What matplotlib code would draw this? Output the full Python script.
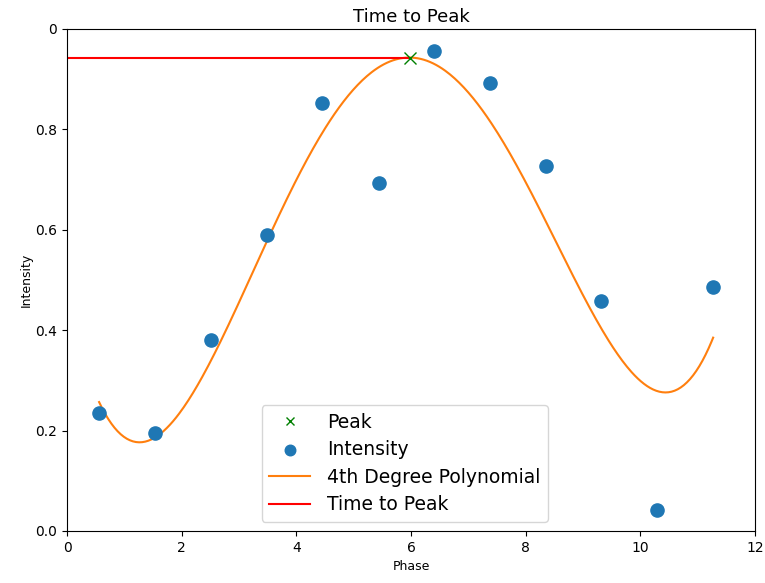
import numpy as np
import matplotlib
matplotlib.use("Agg")
import matplotlib.pyplot as plt

phase = [0.56, 1.535, 2.51, 3.49, 4.45, 5.44, 6.40, 7.38, 8.35, 9.31, 10.29, 11.27]
intensity = [0.236, 0.196, 0.38, 0.59, 0.852, 0.694, 0.956, 0.892, 0.728, 0.458, 0.042, 0.486]
ytick_vals = [0.0, 0.2, 0.4, 0.6, 0.8, 1.0]
ytick_labels = ["0.0", "0.2", "0.4", "0.6", "0.8", "0"]
xtick_vals = [0, 2, 4, 6, 8, 10, 12]

x = np.array(phase)
y = np.array(intensity)
coef = np.polyfit(x, y, 4)
xs = np.linspace(x.min(), x.max(), 400)
ys = np.polyval(coef, xs)
ip = np.argmax(ys)
peak_x, peak_y = xs[ip], ys[ip]

fig = plt.figure(figsize=(7.65, 5.83), dpi=100)
ax = fig.add_axes([67/765, 1 - 531/583, (755-67)/765, (531-29)/583])
ax.plot(peak_x, peak_y, 'x', color='green', markersize=8, label='Peak', zorder=5)
ax.scatter(x, y, s=90, color='#1f77b4', label='Intensity', zorder=3)
ax.plot(xs, ys, color='#ff7f0e', lw=1.5, label='4th Degree Polynomial')
ax.plot([0, peak_x], [peak_y, peak_y], color='red', lw=1.5, label='Time to Peak')
ax.set_xlim(0, 12)
ax.set_ylim(0, 1.0)
ax.set_xticks(xtick_vals)
ax.set_yticks(ytick_vals)
ax.set_yticklabels(ytick_labels)
ax.tick_params(labelsize=10)
ax.set_xlabel('Phase', fontsize=9)
ax.set_ylabel('Intensity', fontsize=9, labelpad=2)
ax.set_title('Time to Peak', fontsize=13, pad=5)
ax.legend(loc='lower center', bbox_to_anchor=(0.491, 0.0), fontsize=13.5, labelspacing=0.45,
          handlelength=2.2, handletextpad=0.9, markerscale=0.8)
fig.savefig('out.png', dpi=100)
